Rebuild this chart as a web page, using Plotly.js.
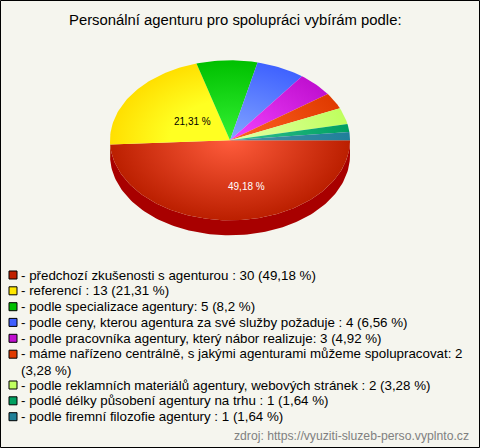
<!DOCTYPE html>
<html>
<head>
<meta charset="utf-8">
<script src="https://cdn.plot.ly/plotly-3.0.1.min.js"></script>
<style>html,body{margin:0;padding:0;background:#f5f5ee}#chart{width:480px;height:448px}</style>
</head>
<body>
<div id="chart"></div>
<script>
const chartTitle = "Personální agenturu pro spolupráci vybírám podle:";
const sourceNote = "zdroj: https://vyuziti-sluzeb-perso.vyplnto.cz";
const categories = [
  "předchozí zkušenosti s agenturou : 30 (49,18 %)",
  "referencí : 13 (21,31 %)",
  "podle specializace agentury: 5 (8,2 %)",
  "podle ceny, kterou agentura za své služby požaduje : 4 (6,56 %)",
  "podle pracovníka agentury, který nábor realizuje: 3 (4,92 %)",
  "máme nařízeno centrálně, s jakými agenturami můžeme spolupracovat: 2<br>(3,28 %)",
  "podle reklamních materiálů agentury, webových stránek : 2 (3,28 %)",
  "podlé délky působení agentury na trhu : 1 (1,64 %)",
  "podle firemní filozofie agentury : 1 (1,64 %)"
];
const values = [30, 13, 5, 4, 3, 2, 2, 1, 1];
const pctLabels = ["49,18 %", "21,31 %"];
const innerColors = ["#ff5c3c", "#ffff22", "#34f234", "#84a6ff", "#f444ff", "#ff6424", "#e4ffa8", "#34c294", "#4a90a8"];
const outerColors = ["#bb1f00", "#ffdf00", "#00c000", "#3f62ff", "#c010d0", "#e03a00", "#bfff5e", "#00a060", "#1f7f9a"];
const innerHold   = [0, 0.5, 0, 0, 0, 0, 0, 0, 0];
const sideColors  = ["#a80000", "#c0a800"];
const swatchColors = ["#c02000", "#ffe800", "#00c000", "#4060ff", "#c010d0", "#e03a00", "#c0ff60", "#00a060", "#208098"];

const CX = 230, CY = 140.3, RX = 120, RY = 80, DEPTH = 15;
const legendY = [275, 290.8, 306.7, 322.4, 338.3, 354.2, 385, 400.8, 416.7];
const legendOffset = [0, 0, 0, 0, 0, 7.5, 0, 0, 0];

const total = values.reduce((a, b) => a + b, 0);
const pt = (deg, dy) => {
  const t = deg * Math.PI / 180;
  return [CX + RX * Math.cos(t), CY + (dy || 0) + RY * Math.sin(t)];
};
const arc = (a, b, dy) => {
  const out = [], n = Math.max(2, Math.ceil(Math.abs(b - a) / 1.5));
  for (let i = 0; i <= n; i++) out.push(pt(a + (b - a) * i / n, dy));
  return out;
};
const poly = (pts, extra) => Object.assign({
  x: pts.map(p => p[0]), y: pts.map(p => p[1]),
  type: "scatter", mode: "lines", fill: "toself",
  line: {width: 0}, hoverinfo: "skip", showlegend: false
}, extra);

const traces = [];
let start = 0;
const wedges = values.map(v => { const w = [start, start + v / total * 360]; start = w[1]; return w; });

wedges.forEach((w, i) => {
  const a = w[0], b = Math.min(w[1], 180);
  if (a < 180 && i < sideColors.length) {
    traces.push(poly(arc(a, b, 0).concat(arc(b, a, DEPTH)), {fillcolor: sideColors[i]}));
  }
});
wedges.forEach((w, i) => {
  const scale = [[0, innerColors[i]]];
  if (innerHold[i] > 0) scale.push([innerHold[i], innerColors[i]]);
  scale.push([1, outerColors[i]]);
  traces.push(poly([[CX, CY]].concat(arc(w[0], w[1], 0)), {
    fillcolor: outerColors[i],
    fillgradient: {type: "radial", colorscale: scale}
  }));
});
// legend swatches
traces.push({
  x: legendY.map(() => 13), y: legendY,
  type: "scatter", mode: "markers", hoverinfo: "skip", showlegend: false,
  marker: {symbol: "square", size: 8, color: swatchColors, line: {color: "#000", width: 1}}
});

const annotations = [];
const txt = (text, x, y, size, color, anchor) => ({
  text, x, y, xref: "x", yref: "y", showarrow: false, xanchor: anchor, yanchor: "middle",
  align: "left", borderpad: 0, font: {family: "Liberation Sans, Arial, sans-serif", size, color}
});
annotations.push(txt(chartTitle, 235, 20, 14.85, "#000", "center"));
annotations.push(txt(pctLabels[0], 246, 186, 10, "#fff", "center"));
annotations.push(txt(pctLabels[1], 192, 121, 10, "#000", "center"));
categories.forEach((c, i) => {
  annotations.push(txt("- " + c, 19.5, legendY[i] + legendOffset[i], 13.33, "#000", "left"));
});
annotations.push(txt(sourceNote, 470, 436, 12.2, "#808080", "right"));

const hidden = {visible: false, fixedrange: true};
const layout = {
  width: 480, height: 448, margin: {l: 0, r: 0, t: 0, b: 0},
  paper_bgcolor: "#f5f5ee", plot_bgcolor: "#f5f5ee", showlegend: false,
  xaxis: Object.assign({range: [0, 480]}, hidden),
  yaxis: Object.assign({range: [448, 0]}, hidden),
  annotations,
  shapes: [{type: "rect", xref: "x", yref: "y", x0: 0.5, y0: 0.5, x1: 479.5, y1: 447.5, line: {color: "#000", width: 1}}]
};

Plotly.newPlot("chart", traces, layout, {staticPlot: true, displayModeBar: false}).then(gd => {
  // All wedges share one radial light source at the pie centre.
  gd.querySelectorAll(".js-fill").forEach(path => {
    const m = /url\(["']?#([^"')]+)/.exec(path.style.fill || path.getAttribute("fill") || "");
    if (!m) return;
    const g = document.getElementById(m[1]);
    if (!g || g.tagName.toLowerCase() !== "radialgradient") return;
    g.setAttribute("gradientUnits", "userSpaceOnUse");
    g.setAttribute("cx", CX); g.setAttribute("cy", CY); g.setAttribute("r", RX);
    g.setAttribute("fx", CX); g.setAttribute("fy", CY);
    g.setAttribute("gradientTransform",
      `translate(${CX} ${CY}) scale(1 ${RY / RX}) translate(${-CX} ${-CY})`);
  });
});
</script>
</body>
</html>
